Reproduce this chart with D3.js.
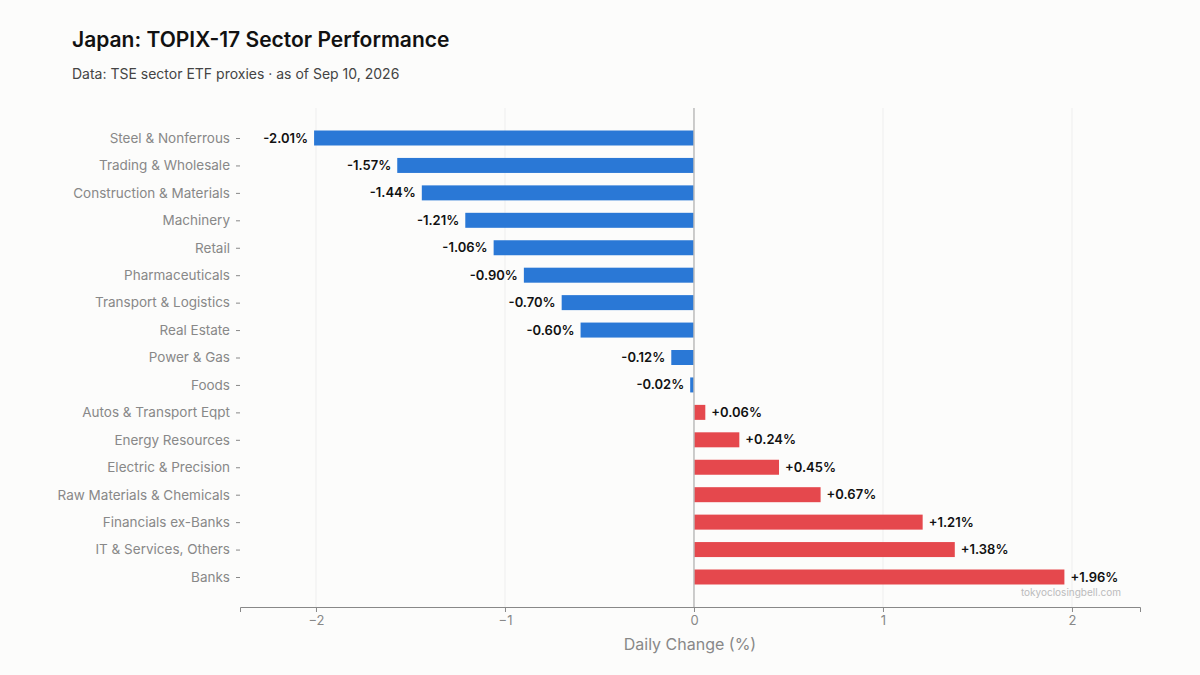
<!DOCTYPE html>
<html lang="en">
<head>
<meta charset="utf-8">
<script src="https://d3js.org/d3.v7.min.js"></script>
<style>
  body { margin: 0; background: #fcfcfb; font-family: Inter, "Noto Sans", sans-serif; }
</style>
</head>
<body>
<div id="chart"></div>
<script>
const sectors = ["Steel & Nonferrous", "Trading & Wholesale", "Construction & Materials", "Machinery",
  "Retail", "Pharmaceuticals", "Transport & Logistics", "Real Estate", "Power & Gas", "Foods",
  "Autos & Transport Eqpt", "Energy Resources", "Electric & Precision", "Raw Materials & Chemicals",
  "Financials ex-Banks", "IT & Services, Others", "Banks"];
const changes = [-2.01, -1.57, -1.44, -1.21, -1.06, -0.90, -0.70, -0.60, -0.12, -0.02,
  0.06, 0.24, 0.45, 0.67, 1.21, 1.38, 1.96];
const xTicks = [-2, -1, 0, 1, 2];

const W = 1200, H = 675;
const svg = d3.select("#chart").append("svg").attr("width", W).attr("height", H);
svg.append("rect").attr("width", W).attr("height", H).attr("fill", "#fcfcfb");

const x = d3.scaleLinear().domain([-2.402, 2.36]).range([240, 1140]);
const y = d3.scalePoint().domain(sectors).range([138, 577]);
const barH = 15;

// grid
svg.selectAll("line.grid").data(xTicks.filter(d => d !== 0)).enter().append("line")
  .attr("x1", d => x(d)).attr("x2", d => x(d)).attr("y1", 108).attr("y2", 607)
  .attr("stroke", "#eeeeee").attr("stroke-width", 1);

// bars
svg.selectAll("rect.bar").data(changes).enter().append("rect")
  .attr("x", d => x(Math.min(0, d)))
  .attr("width", d => Math.abs(x(d) - x(0)))
  .attr("y", (d, i) => y(sectors[i]) - barH / 2)
  .attr("height", barH)
  .attr("fill", d => d < 0 ? "#2a78d6" : "#e5484d");

// zero line
svg.append("line").attr("x1", x(0)).attr("x2", x(0)).attr("y1", 108).attr("y2", 607)
  .attr("stroke", "#bbbbbb").attr("stroke-width", 1.5);

// value labels
svg.selectAll("text.val").data(changes).enter().append("text")
  .attr("x", d => d < 0 ? x(d) - 6 : x(d) + 6)
  .attr("y", (d, i) => y(sectors[i]))
  .attr("dy", "0.35em")
  .attr("text-anchor", d => d < 0 ? "end" : "start")
  .attr("font-size", 13).attr("font-weight", 600).attr("fill", "#111")
  .text(d => (d > 0 ? "+" : "") + d.toFixed(2) + "%");

// y axis labels
const yAxis = svg.append("g").attr("transform", "translate(240,0)")
  .call(d3.axisLeft(y).tickSize(4).tickPadding(6));
yAxis.select(".domain").remove();
yAxis.selectAll("line").attr("stroke", "#888");
yAxis.selectAll("text").attr("font-size", 13.5).attr("fill", "#888").attr("font-family", "Inter");

// x axis
const xAxis = svg.append("g").attr("transform", "translate(0,607)")
  .call(d3.axisBottom(x).tickValues(xTicks).tickSize(5).tickPadding(4).tickFormat(d3.format("d")));
xAxis.select(".domain").attr("stroke", "#888");
xAxis.selectAll("line").attr("stroke", "#888");
xAxis.selectAll("text").attr("font-size", 13).attr("fill", "#888").attr("font-family", "Inter");

svg.append("text").attr("x", x(0) - 4).attr("y", 650).attr("text-anchor", "middle")
  .attr("font-size", 16).attr("fill", "#888").text("Daily Change (%)");

svg.append("text").attr("x", 1121).attr("y", 596).attr("text-anchor", "end")
  .attr("font-size", 10).attr("fill", "#bbb").text("tokyoclosingbell.com");

// titles
svg.append("text").attr("x", 72).attr("y", 47).attr("font-size", 21).attr("font-weight", 600)
  .attr("fill", "#111").text("Japan: TOPIX-17 Sector Performance");
svg.append("text").attr("x", 72).attr("y", 79).attr("font-size", 14).attr("fill", "#444")
  .text("Data: TSE sector ETF proxies · as of Sep 10, 2026");
</script>
</body>
</html>
